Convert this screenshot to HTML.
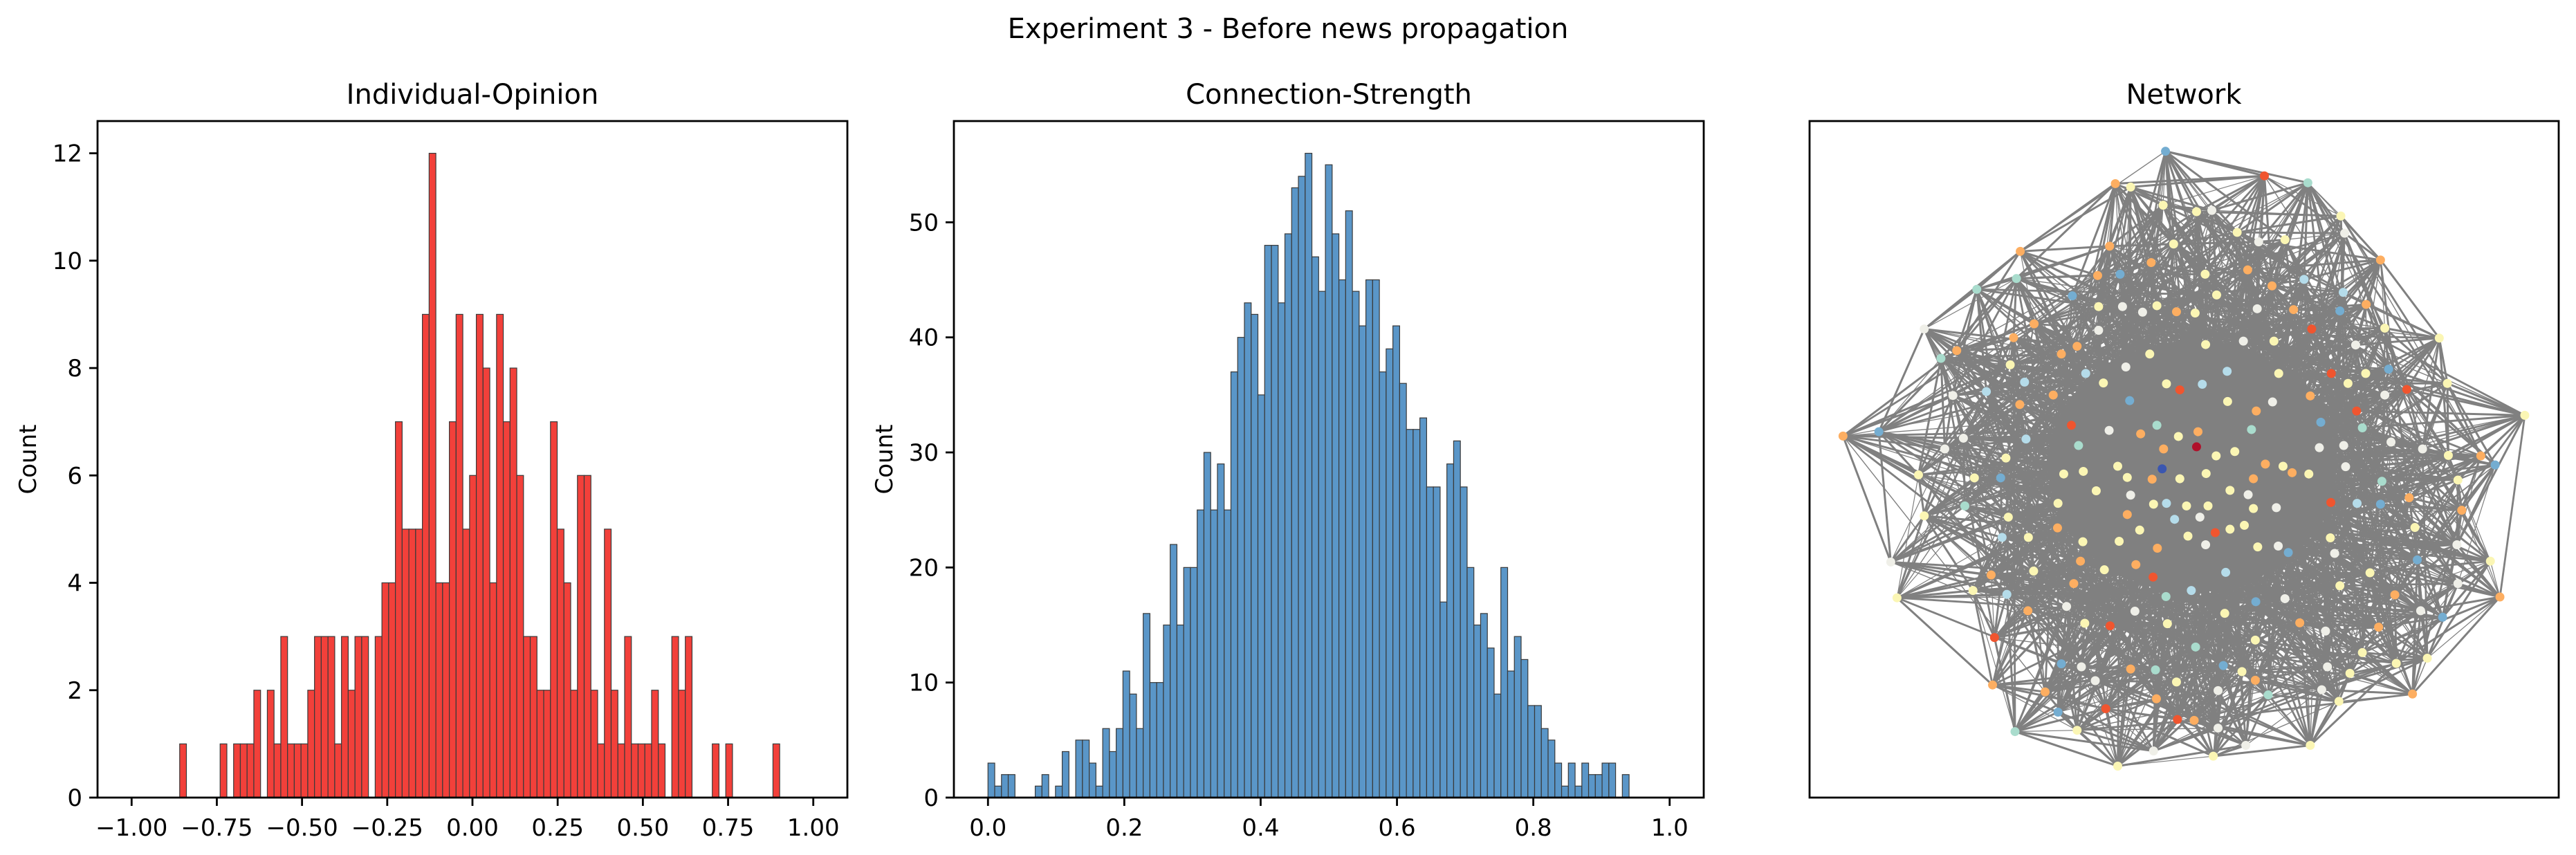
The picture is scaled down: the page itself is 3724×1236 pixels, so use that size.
<!DOCTYPE html>
<html><head><meta charset="utf-8">
<style>
html,body{margin:0;padding:0;background:#fff;}
svg{display:block;font-family:"DejaVu Sans","Liberation Sans",sans-serif;}
</style></head>
<body>
<svg id="fig" width="3724" height="1236" viewBox="0 0 3724 1236" xmlns="http://www.w3.org/2000/svg">
<rect width="3724" height="1236" fill="#fff"/>
<text x="1862" y="55" font-size="40" text-anchor="middle" fill="#000">Experiment 3 - Before news propagation</text>
<text x="683" y="150" font-size="40" text-anchor="middle" fill="#000">Individual-Opinion</text>
<text x="1921" y="150" font-size="40" text-anchor="middle" fill="#000">Connection-Strength</text>
<text x="3157" y="150" font-size="40" text-anchor="middle" fill="#000">Network</text>
<text transform="translate(52,664) rotate(-90)" font-size="34" text-anchor="middle" fill="#000">Count</text>
<text transform="translate(1290,664) rotate(-90)" font-size="34" text-anchor="middle" fill="#000">Count</text>
<g id="p1"></g>
<g id="p2"></g>
<g id="p3"></g>
</svg>
<script>
// ---- Individual-Opinion histogram data ----
const opStart = -0.859;
const opBinWidth = 0.01978;
const opCounts = [1,0,0,0,0,0,1,0,1,1,1,2,0,2,1,3,1,1,1,2,3,3,3,1,3,2,3,3,0,3,4,4,7,5,5,5,9,12,4,4,7,9,5,6,9,8,4,9,7,8,6,3,3,2,2,7,5,4,2,6,6,2,1,5,2,1,3,1,1,1,2,1,0,3,2,3,0,0,0,1,0,1,0,0,0,0,0,0,1];
const opXTicks = [-1.0,-0.75,-0.5,-0.25,0,0.25,0.5,0.75,1.0];
const opXTickLabels = ["\u22121.00","\u22120.75","\u22120.50","\u22120.25","0.00","0.25","0.50","0.75","1.00"];
const opYTicks = [0,2,4,6,8,10,12];
// ---- Connection-Strength histogram data ----
const csStart = 0.0;
const csBinWidth = 0.0099;
const csCounts = [3,1,2,2,0,0,0,1,2,0,1,4,0,5,5,3,1,6,4,6,11,9,6,16,10,10,15,22,15,20,20,25,30,25,29,25,37,40,43,42,35,48,48,43,49,53,54,56,47,44,55,49,45,51,44,41,45,45,37,39,41,36,32,32,33,27,27,17,29,31,27,20,15,16,13,9,20,11,14,12,8,8,6,5,3,1,3,1,3,2,2,3,3,0,2];
const csXTicks = [0,0.2,0.4,0.6,0.8,1.0];
const csXTickLabels = ["0.0","0.2","0.4","0.6","0.8","1.0"];
const csYTicks = [0,10,20,30,40,50];
// ---- Network nodes (layout units 0..1568) ----
const nodeX = [745,640,672,952,1043,1112,1195,441,350,240,1318,1335,1497,70,145,228,1435,240,1365,170,1425,183,1445,1325,1293,383,1262,430,560,645,845,913,1048,1108,720,520,275,308,
740,810,842,628,762,715,895,940,995,1120,603,650,828,917,968,1035,1117,1110,1165,433,550,605,655,697,727,768,807,852,937,1013,1051,470,605,427,527,560,712,829,908,972,1143,1204,420,578,662,874,982,1092,1127,1164,1212,450,510,615,747,775,822,300,370,440,670,875,969,1048,1204,1250,935,1145,1070,548,627,693,727,772,813,925,1157,322,283,453,563,741,810,851,890,1067,1118,1217,1283,1337,1405,411,645,738,954,991,1010,1045,1122,345,400,532,573,665,717,775,830,929,1198,1357,600,672,880,918,520,720,747,789,834,929,977,1091,1146,1195,1255,325,416,665,764,817,519,691,849,880,910,1267,403,458,572,648,728,792,829,1090,938,981,1002,1099,1355,567,683,469,617,871,1272,380,719,1173,553,1110,1357,342,413,799,746,995,934,1225,457,538,681,869,576,629,749,1026,1279,1080,1191,387,808,933,1157,527,569,672,724,866,905,1084,1131,1228,598,768,933,493,855,960,1072,726,620,770,805,855];
const nodeY = [70,145,153,127,143,220,322,302,390,482,503,608,682,730,720,820,797,915,902,1022,1020,1105,1103,1150,1245,1307,1328,1415,1412,1495,1472,1447,1447,1345,1460,1370,550,532,
195,210,207,290,285,328,258,280,275,260,358,355,355,345,382,367,397,440,425,365,405,430,430,443,428,442,445,403,435,437,482,470,485,502,540,522,540,518,510,510,519,480,565,585,570,580,585,585,608,585,575,605,635,607,609,623,610,636,627,657,648,650,651,637,635,622,672,672,698,705,717,725,705,731,720,715,711,735,760,737,752,760,755,776,766,757,752,744,760,775,776,781,800,806,795,800,815,818,801,827,827,818,812,826,830,829,817,829,835,832,857,867,856,866,886,888,886,892,892,898,896,884,886,888,873,892,918,912,923,918,943,948,954,946,937,942,965,965,975,974,990,962,982,966,987,985,1000,1002,982,1020,1028,1043,1040,1046,1017,1052,1057,1047,1072,1077,1072,1088,1097,1088,1102,1107,1114,1098,1135,1125,1136,1141,1164,1170,1165,1163,1135,1182,1173,1197,1219,1203,1232,1258,1265,1270,1272,1262,1276,1265,1280,1257,1297,1300,1296,1323,1320,1330,1318,1339,1362,1387,1389,1407];
const nodeColor = "BOYRTYOOTWYYYOBYBYOWYYOBYOOTYYYWYYWBTO"+
"YYWOYOYWYWOBYOOLLBOTBYWWYOYYWOROWOOOYYWYWYYLWLYRYYBLOYYRLWLOBYWOWRORBRWOTYOTTWWLTOVYYWWWWYOYYNOYOYWYBYYYOYYOTYYWYWYYLYYYWRLBOTYOLWOYRYYYLYYYOYWYYWBWWOOYYLBORYOYWYLLTWBOOWWYYRYOWWORTYYBWOTBYWYYWYOOWTWORROW";
const palette = {Y:"#fbf6b4",O:"#fdae61",R:"#f0552f",T:"#a9dccd",W:"#efefe8",L:"#b5dcea",B:"#74add1",D:"#b5102a",N:"#3a56b0",V:"#b0102a"};

const NS = "http://www.w3.org/2000/svg";
function mk(tag, attrs, parent){const e=document.createElementNS(NS,tag);for(const k in attrs)e.setAttribute(k,attrs[k]);parent.appendChild(e);return e;}

const AX_TOP=175, AX_BOT=1153;
function drawHist(g, left, right, xmin, xmax, ymax, start, bw, counts, fill, xticks, xlabels, yticks, nm){
  const sx = v => left + (v-xmin)/(xmax-xmin)*(right-left);
  const sy = c => AX_BOT - c/ymax*(AX_BOT-AX_TOP);
  counts.forEach((c,i)=>{
    if(c<=0) return;
    const x0=sx(start+i*bw), x1=sx(start+(i+1)*bw);
    const r=mk('rect',{x:x0,y:sy(c),width:x1-x0,height:AX_BOT-sy(c),fill:fill,stroke:'#3a3a3a','stroke-width':1.2},g);
    
    
  });
  xticks.forEach((t,i)=>{
    const x=sx(t);
    const tk=mk('line',{x1:x,x2:x,y1:AX_BOT,y2:AX_BOT+12,stroke:'#000','stroke-width':2.8},g);
    
    
    const tl=mk('text',{x:x,y:AX_BOT+55,'font-size':34,'text-anchor':'middle',fill:'#000'},g);
    tl.textContent=xlabels[i];
    
    
  });
  yticks.forEach(t=>{
    const y=sy(t);
    const tk=mk('line',{x1:left-12,x2:left,y1:y,y2:y,stroke:'#000','stroke-width':2.8},g);
    
    
    const tl=mk('text',{x:left-22,y:y+12,'font-size':34,'text-anchor':'end',fill:'#000'},g);
    tl.textContent=String(t);
    
    
  });
  const fr=mk('rect',{x:left,y:AX_TOP,width:right-left,height:AX_BOT-AX_TOP,fill:'none',stroke:'#000','stroke-width':2.8},g);
  
  
}
drawHist(document.getElementById('p1'),141,1225,-1.1,1.1,12.6,opStart,opBinWidth,opCounts,'#f2403a',opXTicks,opXTickLabels,opYTicks,'opinion');
drawHist(document.getElementById('p2'),1379,2463,-0.05,1.05,58.8,csStart,csBinWidth,csCounts,'#5a96c8',csXTicks,csXTickLabels,csYTicks,'strength');

// ---- Network ----
(function(){
  const g=document.getElementById('p3');
  const L=2616,T=175,W=1083,H=978;
  const px=v=>L+v*W/1568, py=v=>T+v*H/1568;
  const N=Math.min(nodeX.length,nodeY.length);
  const OUTER=38;
  const eg=mk('g',{stroke:'#808080','stroke-linecap':'round'},g);
  
  
  const blob=mk('ellipse',{cx:px(800),cy:py(800),rx:(300)*W/1568,ry:(290)*H/1568,fill:'#808080'},eg);
  
  
  const seen=new Set();
  function edge(a,b,w){
    const key=a<b?a+'_'+b:b+'_'+a; if(seen.has(key))return; seen.add(key);
    const l=mk('line',{x1:px(nodeX[a]),y1:py(nodeY[a]),x2:px(nodeX[b]),y2:py(nodeY[b]),'stroke-width':w},eg);
    
    
  }
  for(let i=0;i<N;i++){
    const d=[];
    for(let j=0;j<N;j++){ if(j===i)continue; const dx=nodeX[i]-nodeX[j], dy=nodeY[i]-nodeY[j]; d.push([dx*dx+dy*dy,j]); }
    d.sort((a,b)=>a[0]-b[0]);
    const k = i<OUTER ? 10 : 7;
    for(let m=0;m<k;m++){ edge(i, d[m*2+1][1], (i+m)%4===0?1.2:3.0); }
    const far = i<OUTER ? 2 : 8;
    for(let m=0;m<far;m++){ const j=(i*17+m*53+7)%N; edge(i,j,(m%3===0)?1.4:2.8); }
  }
  const ng=mk('g',{},g);
  
  
  for(let i=0;i<N;i++){
    const c=mk('circle',{cx:px(nodeX[i]),cy:py(nodeY[i]),r:6.5,fill:palette[nodeColor[i]]||'#fbf6b4'},ng);
    
    
  }
  const fr=mk('rect',{x:L,y:T,width:W,height:H,fill:'none',stroke:'#000','stroke-width':2.8},g);
  
  
})();
</script>
</body></html>
